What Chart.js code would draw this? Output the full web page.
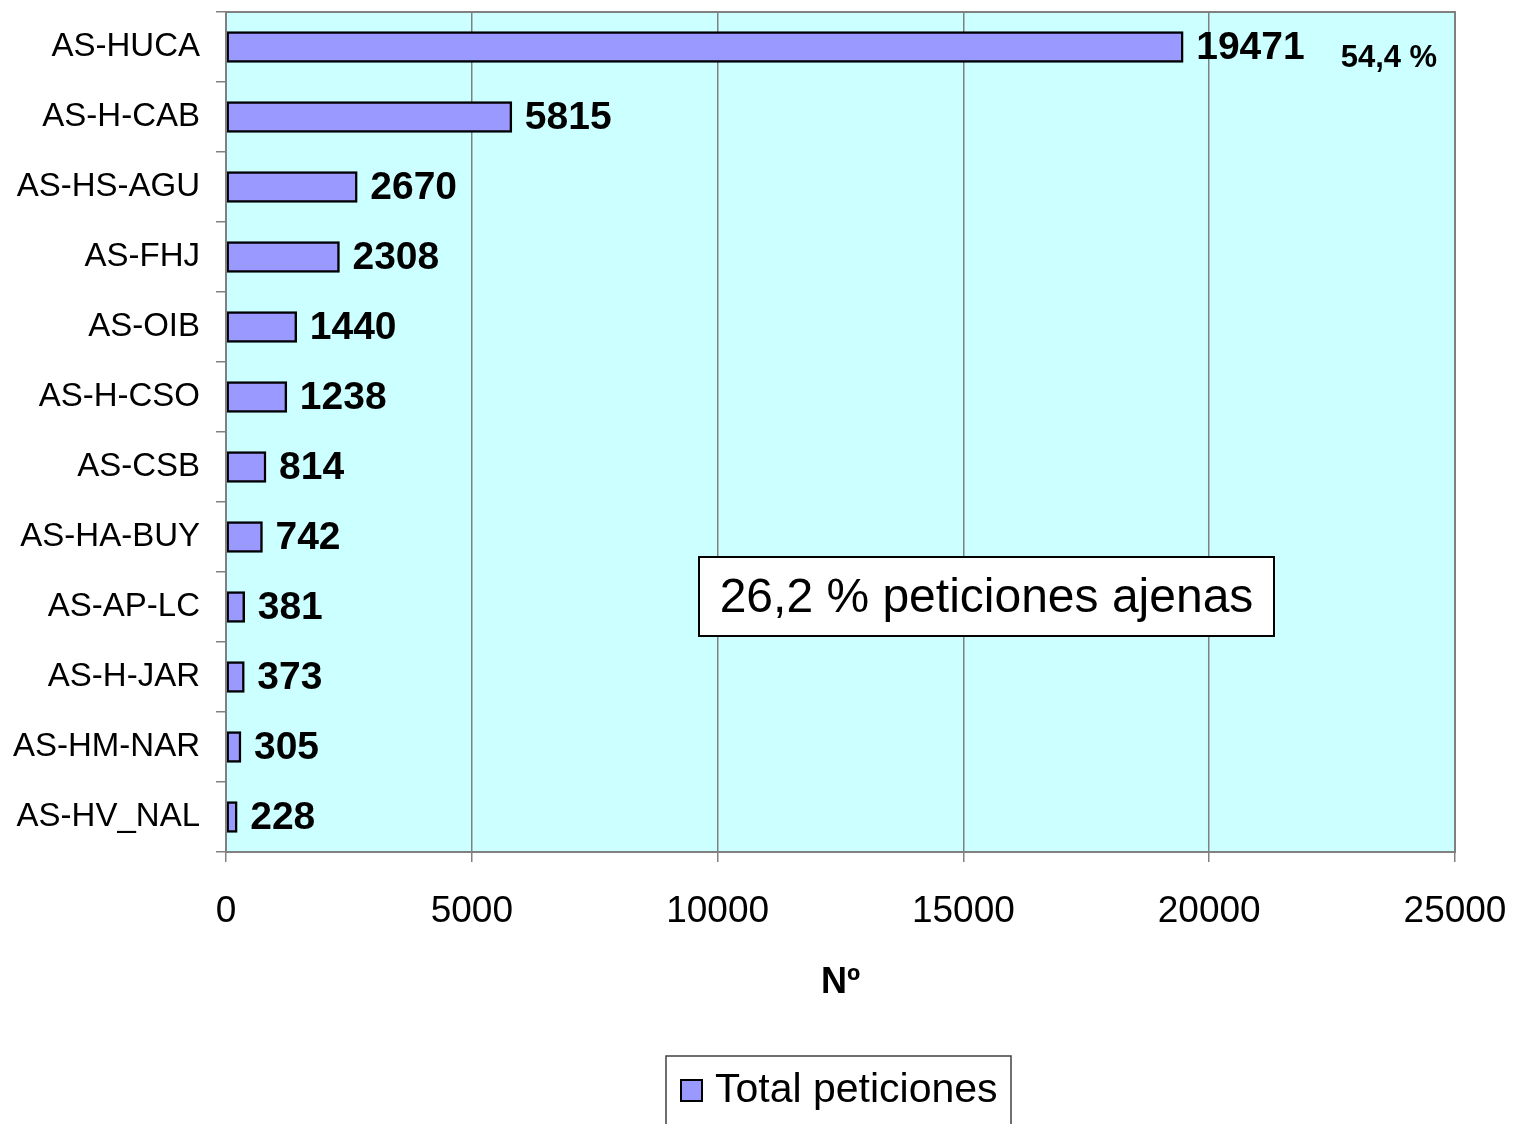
<!DOCTYPE html>
<html>
<head>
<meta charset="utf-8">
<script src="https://cdn.jsdelivr.net/npm/chart.js@4.4.1/dist/chart.umd.min.js"></script>
<style>
    body { margin: 0; background: #fff; }
    canvas { display: block; }
</style>
</head>
<body>
<canvas id="chart" width="1517" height="1124"></canvas>
<script>
// Chart data
const centros = ["AS-HUCA", "AS-H-CAB", "AS-HS-AGU", "AS-FHJ", "AS-OIB", "AS-H-CSO",
    "AS-CSB", "AS-HA-BUY", "AS-AP-LC", "AS-H-JAR", "AS-HM-NAR", "AS-HV_NAL"];
const totalPeticiones = [19471, 5815, 2670, 2308, 1440, 1238, 814, 742, 381, 373, 305, 228];
const porcentajes = ["54,4 %", "", "", "", "", "", "", "", "", "", "", ""];
const xTicks = [0, 5000, 10000, 15000, 20000, 25000];
const serieNombre = "Total peticiones";
const notaTexto = "26,2 % peticiones ajenas";
const ejeTitulo = "Nº";

const FONT = "Arial, 'Liberation Sans', sans-serif";
const BAR_COLOR = "#9999FF";
const PLOT_BG = "#CCFFFF";
const GRID = "#808080";

/**
 * Plot background and outer frame
 */
const plotArea = {
    id: "plotArea",
    beforeDraw(chart) {
        const { ctx, chartArea: a } = chart;
        ctx.save();
        ctx.fillStyle = PLOT_BG;
        ctx.fillRect(a.left, a.top, a.width, a.height);
        ctx.restore();
    },
    afterDraw(chart) {
        const { ctx, chartArea: a } = chart;
        ctx.save();
        ctx.strokeStyle = GRID;
        ctx.lineWidth = 2;
        ctx.strokeRect(a.left, a.top, a.width, a.height);
        ctx.restore();
    },
};

/**
 * Value labels next to each bar, plus the percentage note
 */
const valueLabels = {
    id: "valueLabels",
    afterDatasetsDraw(chart) {
        const { ctx } = chart;
        const meta = chart.getDatasetMeta(0);
        ctx.save();
        ctx.fillStyle = "#000";
        ctx.textBaseline = "middle";
        ctx.textAlign = "left";
        meta.data.forEach((bar, i) => {
            ctx.font = "bold 39px " + FONT;
            const txt = String(totalPeticiones[i]);
            const x = bar.x + 13;
            ctx.fillText(txt, x, bar.y + 1);
            if (porcentajes[i]) {
                const w = ctx.measureText(txt).width;
                ctx.font = "bold 31px " + FONT;
                ctx.fillText(porcentajes[i], x + w + 36, bar.y + 11);
            }
        });
        ctx.restore();
    },
};

/**
 * Text box inside the plot and the legend below the axis
 */
const extras = {
    id: "extras",
    afterDraw(chart) {
        const { ctx, chartArea: a } = chart;
        ctx.save();

        // note box
        const bx = a.left + 473, by = a.top + 545, bw = 575, bh = 79;
        ctx.fillStyle = "#fff";
        ctx.fillRect(bx, by, bw, bh);
        ctx.strokeStyle = "#000";
        ctx.lineWidth = 2;
        ctx.strokeRect(bx, by, bw, bh);
        ctx.fillStyle = "#000";
        ctx.font = "48px " + FONT;
        ctx.textAlign = "center";
        ctx.textBaseline = "middle";
        ctx.fillText(notaTexto, bx + bw / 2, by + bh / 2 + 2);

        // legend
        const lx = 666, ly = 1056;
        ctx.strokeStyle = "#404040";
        ctx.lineWidth = 1.5;
        ctx.strokeRect(lx, ly, 345, 90);
        ctx.fillStyle = BAR_COLOR;
        ctx.fillRect(681, 1080, 21, 21);
        ctx.strokeStyle = "#000";
        ctx.lineWidth = 2;
        ctx.strokeRect(681, 1080, 21, 21);
        ctx.fillStyle = "#000";
        ctx.font = "41px " + FONT;
        ctx.textAlign = "left";
        ctx.fillText(serieNombre, 715, 1091);

        ctx.restore();
    },
};

new Chart(document.getElementById("chart").getContext("2d"), {
    type: "bar",
    data: {
        labels: centros,
        datasets: [
            {
                label: serieNombre,
                data: totalPeticiones,
                backgroundColor: BAR_COLOR,
                borderColor: "#000",
                borderWidth: 2.5,
                borderSkipped: false,
                barThickness: 31,
            },
        ],
    },
    options: {
        indexAxis: "y",
        responsive: false,
        animation: false,
        layout: {
            padding: { top: 12, right: 62, bottom: 0, left: 0 },
        },
        plugins: {
            legend: { display: false },
            tooltip: { enabled: false },
        },
        scales: {
            x: {
                min: 0,
                max: 25000,
                afterBuildTicks(scale) {
                    scale.ticks = xTicks.map((v) => ({ value: v }));
                },
                afterFit(scale) {
                    scale.height = 272;
                    scale.paddingLeft = 0;
                    scale.paddingRight = 0;
                },
                ticks: {
                    color: "#000",
                    padding: 28,
                    maxRotation: 0,
                    font: { family: FONT, size: 37 },
                    callback: (v) => String(v),
                },
                grid: {
                    color: GRID,
                    lineWidth: 1.5,
                    tickLength: 10,
                },
                border: { color: GRID, width: 2 },
                title: {
                    display: true,
                    text: ejeTitulo,
                    color: "#000",
                    font: { family: FONT, size: 36, weight: "bold" },
                    padding: { top: 0, bottom: 119 },
                },
            },
            y: {
                afterFit(scale) {
                    scale.width = 226;
                    scale.paddingTop = 0;
                    scale.paddingBottom = 0;
                },
                ticks: {
                    color: "#000",
                    padding: 16,
                    font: { family: FONT, size: 33 },
                },
                grid: {
                    offset: true,
                    drawOnChartArea: false,
                    color: GRID,
                    lineWidth: 1.5,
                    tickLength: 10,
                },
                border: { color: GRID, width: 2 },
            },
        },
    },
    plugins: [plotArea, valueLabels, extras],
});
</script>
</body>
</html>
